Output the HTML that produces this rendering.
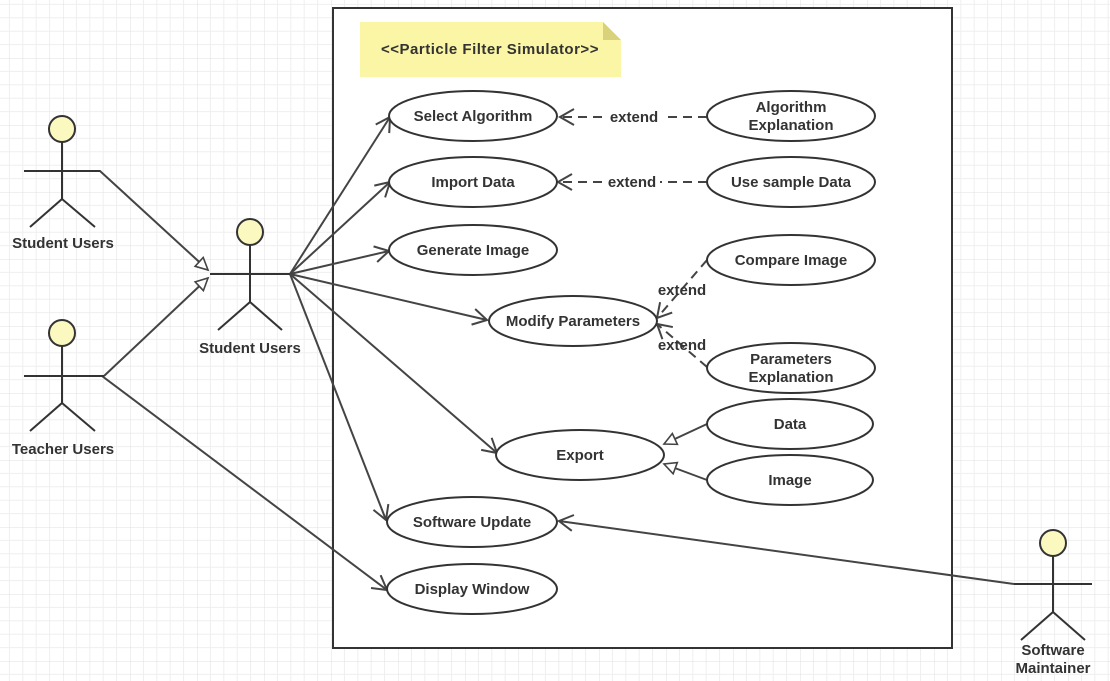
<!DOCTYPE html>
<html><head><meta charset="utf-8"><style>
html,body{margin:0;padding:0;background:#fff}
svg{display:block}
text{font-family:"Liberation Sans",sans-serif;font-weight:bold;font-size:15px;fill:#333}
</style></head><body>
<svg width="1110" height="681" viewBox="0 0 1110 681" xmlns="http://www.w3.org/2000/svg">
<defs>
<pattern id="g" width="67" height="67" patternUnits="userSpaceOnUse" x="-4" y="-9">
<path d="M13.4 0V67M26.8 0V67M40.2 0V67M53.6 0V67M0 13.4H67M0 26.8H67M0 40.2H67M0 53.6H67" stroke="#efefef" stroke-width="1" fill="none"/>
<path d="M0 0V67M0 0H67" stroke="#e0e0e0" stroke-width="1" fill="none"/>
</pattern>
<marker id="a" markerWidth="18" markerHeight="18" refX="15" refY="9" orient="auto" markerUnits="userSpaceOnUse"><path d="M1 1L15 9L1 17" fill="none" stroke="#444" stroke-width="2"/></marker>
<marker id="t" markerWidth="16" markerHeight="16" refX="14" refY="8" orient="auto" markerUnits="userSpaceOnUse"><path d="M2 2L14 8L2 14Z" fill="#fff" stroke="#444" stroke-width="1.6"/></marker>
</defs>
<rect width="1110" height="681" fill="url(#g)"/>
<rect x="333" y="8" width="619" height="640" fill="#fff" stroke="#333" stroke-width="2"/>
<path d="M360 22H603L621 40V77H360Z" fill="#fbf5a6"/>
<path d="M603 22V40H621Z" fill="#d9d27a"/>
<text x="490" y="54" text-anchor="middle" font-size="14" letter-spacing="0.5">&lt;&lt;Particle Filter Simulator&gt;&gt;</text>
<g stroke="#444" stroke-width="2" fill="none">
<line x1="290" y1="274" x2="390" y2="117" marker-end="url(#a)"/>
<line x1="290" y1="274" x2="390" y2="182" marker-end="url(#a)"/>
<line x1="290" y1="274" x2="389" y2="251" marker-end="url(#a)"/>
<line x1="290" y1="274" x2="487" y2="320" marker-end="url(#a)"/>
<line x1="290" y1="274" x2="497" y2="453" marker-end="url(#a)"/>
<line x1="290" y1="274" x2="386" y2="520" marker-end="url(#a)"/>
<line x1="102" y1="376" x2="387" y2="590" marker-end="url(#a)"/>
<line x1="1014" y1="584" x2="559" y2="521" marker-end="url(#a)"/>
<polyline points="24,171 100,171 208,270" marker-end="url(#t)"/>
<line x1="104" y1="376" x2="208" y2="278" marker-end="url(#t)"/>
<line x1="707" y1="424" x2="664" y2="444" marker-end="url(#t)"/>
<line x1="707" y1="480" x2="664" y2="464" marker-end="url(#t)"/>
<g stroke-dasharray="9,6">
<line x1="707" y1="117" x2="560" y2="117" marker-end="url(#a)"/>
<line x1="707" y1="182" x2="558" y2="182" marker-end="url(#a)"/>
<line x1="707" y1="260" x2="657" y2="318" marker-end="url(#a)"/>
<line x1="707" y1="367" x2="657" y2="324" marker-end="url(#a)"/>
</g>
</g>
<rect x="605" y="107" width="58" height="18" fill="#fff"/><text x="634" y="122" text-anchor="middle">extend</text>
<rect x="604" y="173" width="56" height="18" fill="#fff"/><text x="632" y="187" text-anchor="middle">extend</text>
<text x="682" y="295" text-anchor="middle">extend</text>
<text x="682" y="350" text-anchor="middle">extend</text>
<g fill="#fff" stroke="#333" stroke-width="2">
<ellipse cx="473" cy="116" rx="84" ry="25"/>
<ellipse cx="473" cy="182" rx="84" ry="25"/>
<ellipse cx="473" cy="250" rx="84" ry="25"/>
<ellipse cx="573" cy="321" rx="84" ry="25"/>
<ellipse cx="580" cy="455" rx="84" ry="25"/>
<ellipse cx="472" cy="522" rx="85" ry="25"/>
<ellipse cx="472" cy="589" rx="85" ry="25"/>
<ellipse cx="791" cy="116" rx="84" ry="25"/>
<ellipse cx="791" cy="182" rx="84" ry="25"/>
<ellipse cx="791" cy="260" rx="84" ry="25"/>
<ellipse cx="791" cy="368" rx="84" ry="25"/>
<ellipse cx="790" cy="424" rx="83" ry="25"/>
<ellipse cx="790" cy="480" rx="83" ry="25"/>
</g>
<g text-anchor="middle">
<text x="473" y="121">Select Algorithm</text>
<text x="473" y="187">Import Data</text>
<text x="473" y="255">Generate Image</text>
<text x="573" y="326">Modify Parameters</text>
<text x="580" y="460">Export</text>
<text x="472" y="527">Software Update</text>
<text x="472" y="594">Display Window</text>
<text x="791" y="112">Algorithm</text><text x="791" y="130">Explanation</text>
<text x="791" y="187">Use sample Data</text>
<text x="791" y="265">Compare Image</text>
<text x="791" y="364">Parameters</text><text x="791" y="382">Explanation</text>
<text x="790" y="429">Data</text>
<text x="790" y="485">Image</text>
</g>
<g stroke="#333" stroke-width="2" fill="none">
<path d="M62 142V199L30 227M62 199L95 227M24 171H100"/>
<path d="M62 346V403L30 431M62 403L95 431M24 376H104"/>
<path d="M250 245V302L218 330M250 302L282 330M210 274H290"/>
<path d="M1053 556V612L1021 640M1053 612L1085 640M1014 584H1092"/>
</g>
<g fill="#fbf8c0" stroke="#333" stroke-width="2">
<circle cx="62" cy="129" r="13"/><circle cx="62" cy="333" r="13"/>
<circle cx="250" cy="232" r="13"/><circle cx="1053" cy="543" r="13"/>
</g>
<g text-anchor="middle">
<text x="63" y="248">Student Users</text>
<text x="63" y="454">Teacher Users</text>
<text x="250" y="353">Student Users</text>
<text x="1053" y="655">Software</text><text x="1053" y="673">Maintainer</text>
</g>
</svg>
</body></html>
